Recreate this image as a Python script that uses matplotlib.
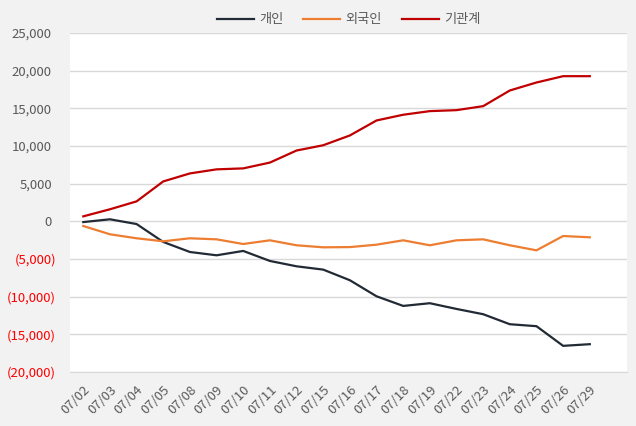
import matplotlib
matplotlib.use("Agg")
import matplotlib.pyplot as plt
import matplotlib.transforms as mtransforms

plt.rcParams['font.family'] = ['Noto Sans CJK KR', 'DejaVu Sans']

dates = ['07/02', '07/03', '07/04', '07/05', '07/08', '07/09', '07/10', '07/11', '07/12', '07/15',
         '07/16', '07/17', '07/18', '07/19', '07/22', '07/23', '07/24', '07/25', '07/26', '07/29']
individual = [-100, 270, -360, -2740, -4070, -4510, -3930, -5260, -5970, -6410,
              -7820, -9950, -11230, -10870, -11630, -12330, -13660, -13920, -16530, -16310]
foreign = [-620, -1720, -2250, -2650, -2250, -2390, -3010, -2520, -3180, -3450,
           -3420, -3100, -2520, -3180, -2520, -2390, -3180, -3850, -1950, -2120]
institution = [660, 1600, 2650, 5300, 6360, 6900, 7030, 7800, 9400, 10100,
               11400, 13390, 14150, 14630, 14760, 15290, 17370, 18430, 19270, 19270]
yticks = [25000, 20000, 15000, 10000, 5000, 0, -5000, -10000, -15000, -20000]

fig = plt.figure(figsize=(6.36, 4.26), dpi=100, facecolor='#F2F2F2')
ax = fig.add_axes([0.110, 0.1268, 0.876, 0.7957])
ax.set_facecolor('white')

x = range(len(dates))
ax.plot(x, individual, color='#222A35', lw=1.6, label='개인')
ax.plot(x, foreign, color='#ED7D31', lw=1.6, label='외국인')
ax.plot(x, institution, color='#C00000', lw=1.6, label='기관계')

ax.set_xlim(-0.5, 20.4)
ax.set_ylim(-20000, 25000)
ax.set_yticks(yticks)
ax.grid(axis='y', color='#D9D9D9', lw=1)
ax.set_axisbelow(True)
for s in ['top', 'left', 'right']:
    ax.spines[s].set_visible(False)
ax.spines['bottom'].set_color('#D9D9D9')
ax.tick_params(length=0)

labels = []
for v in yticks:
    if v < 0:
        labels.append('({:,})'.format(-v))
    else:
        labels.append('{:,}'.format(v))
ax.set_yticklabels(labels, fontsize=9.5)
ax.tick_params(axis='y', pad=13)
for lab, v in zip(ax.get_yticklabels(), yticks):
    if v < 0:
        lab.set_color('#FF0000')
        lab.set_transform(lab.get_transform() + mtransforms.ScaledTranslation(4 / 100, 0, fig.dpi_scale_trans))
    else:
        lab.set_color('#595959')

ax.set_xticks(list(x))
ax.set_xticklabels(dates, rotation=45, ha='right', va='top', rotation_mode='anchor',
                   fontsize=9.5, color='#595959')
ax.tick_params(axis='x', pad=8)

ax.legend(loc='lower center', bbox_to_anchor=(0.5, 1.0), ncol=3, frameon=False,
          fontsize=9.5, labelcolor='#595959', handlelength=2.8, columnspacing=1.5,
          handletextpad=0.4, borderaxespad=0.1)

fig.savefig('out.png', dpi=100, facecolor=fig.get_facecolor())
